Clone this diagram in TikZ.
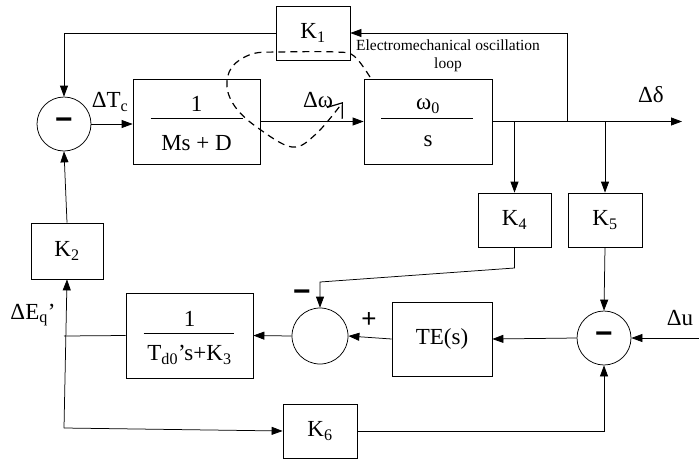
\documentclass[tikz,border=0pt]{standalone}
\usepackage{fontspec}
\setmainfont{Liberation Serif}
\newfontfamily\signfont{Liberation Sans}
\usetikzlibrary{arrows.meta,calc}
\begin{document}
\begin{tikzpicture}[x=1pt,y=-1pt,line width=0.75pt,
  blk/.style={draw, rectangle, inner sep=0pt, font=\fontsize{23}{27}\selectfont},
  sumc/.style={draw, circle, minimum size=54pt, inner sep=0pt},
  arr/.style={-{Triangle[length=11pt,width=8pt]}},
  lbl/.style={inner sep=0pt, font=\fontsize{23}{27}\selectfont},
  small/.style={inner sep=0pt, font=\fontsize{15.5}{18}\selectfont, align=center},
  sign/.style={inner sep=0pt, font=\fontsize{30}{30}\selectfont\signfont\bfseries},
  frac/.style={line width=0.75pt}
]
\useasboundingbox (0,0) rectangle (699,461);

% blocks
\node[sumc] (s1) at (64,124) {};
\node[blk, minimum width=127pt, minimum height=85pt] (b1) at (196.5,121.5) {};
\node[blk, minimum width=74pt, minimum height=54pt] (k1) at (313,33) {K\textsubscript{1}};
\node[blk, minimum width=128pt, minimum height=85pt] (b2) at (428,121.5) {};
\node[blk, minimum width=73pt, minimum height=54pt] (k4) at (514.5,220) {K\textsubscript{4}};
\node[blk, minimum width=74pt, minimum height=54pt] (k5) at (605,220) {K\textsubscript{5}};
\node[sumc] (s3) at (604,338) {};
\node[blk, minimum width=100pt, minimum height=74pt] (te) at (442,339) {TE(s)};
\node[sumc, minimum size=56pt] (s2) at (320,336) {};
\node[blk, minimum width=127pt, minimum height=85pt] (b3) at (189.5,335.5) {};
\node[blk, minimum width=72pt, minimum height=56pt] (k2) at (67,251) {K\textsubscript{2}};
\node[blk, minimum width=74pt, minimum height=54pt] (k6) at (320,431) {K\textsubscript{6}};

% fraction contents
\node[lbl] (b1n) at (196.5,104) {1};
\node[lbl] (b1d) at (196.5,143) {Ms + D};
\draw[frac] ($(b1)+(-46,-3)$) -- ($(b1)+(46,-3)$);
\node[lbl] (b2n) at (428,106) {ω\textsubscript{0}};
\node[lbl] (b2d) at (428,141) {s};
\draw[frac] ($(b2)+(-47,-3)$) -- ($(b2)+(45,-3)$);
\node[lbl] (b3n) at (189.5,319) {1};
\node[lbl] (b3d) at (189.5,355) {T\textsubscript{d0}'s+K\textsubscript{3}};
\draw[frac] ($(b3)+(-46,-2.5)$) -- ($(b3)+(44,-2.5)$);

% signs
\node[sign] (m1) at (64,124) {−};
\node[sign] (m3) at (604,338) {−};
\node[sign] (m2) at (302,296) {−};
\node[sign, font=\fontsize{26}{26}\signfont] (p2) at (369,320) {+};

% junction coordinates
\coordinate (out) at (682,121.5);
\coordinate (j1) at (514.5,121.5);
\coordinate (j2) at (605,121.5);
\coordinate (j3) at (567,121.5);
\coordinate (du) at (699,338);
\coordinate (j4) at (64,336);
\coordinate (j5) at (64,428);
\coordinate (k4a) at (514.5,268);
\coordinate (k4b) at (320,282);

% connectors
\draw[arr] (s1.east) -- (s1.east -| b1.west);
\draw[arr] (b1.east) -- (b2.west);
\draw[arr] (b2.east) -- (out);
\draw[arr] (j3) |- (k1.east);
\draw[arr] (k1.west) -| (s1.north);
\draw[arr] (j1) -- (k4.north);
\draw[arr] (j2) -- (k5.north);
\draw[arr] (k5.south) -- (s3.north);
\draw[arr] (du) -- (s3.east);
\draw[arr] (s3.west) -- (te.east);
\draw[arr] (te.west) -- (s2.east);
\draw[arr] (s2.west) -- (b3.east);
\draw (b3.west) -- (j4);
\draw[arr] (j5) -- (k2.south);
\draw[arr] (j5) -- (k6.west);
\draw[arr] (k2.north) -- (s1.south);
\draw[arr] (k6.east) -| (s3.south);
\draw[arr] (k4.south) -- (k4a) -- (k4b) -- (s2.north);

% labels
\node[lbl] (lTc) at (110,102) {ΔT\textsubscript{c}};
\node[lbl] (lw) at (318,100) {Δω};
\node[lbl] (ld) at (651,95) {Δδ};
\node[lbl] (lE) at (33,315) {ΔE\textsubscript{q}’};
\node[lbl] (lu) at (680,318) {Δu};
\node[small] (loop) at (448,56) {Electromechanical oscillation\\loop};

% dashed oscillation loop
\draw[dash pattern=on 7pt off 5pt, line width=1.2pt, -{Straight Barb[length=13pt,width=19pt]}]
  plot[smooth, tension=0.6] coordinates {(370,77) (354,56) (336,52) (280,52) (252,54) (232,67) (227,87) (236,108) (258,128) (292,147) (316,134) (343,102)};
\end{tikzpicture}
\end{document}
